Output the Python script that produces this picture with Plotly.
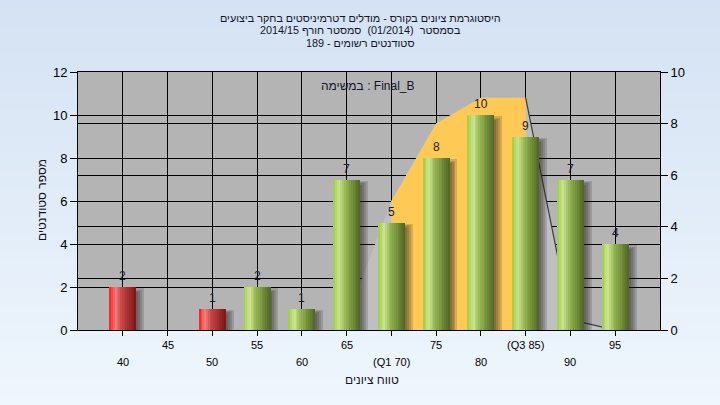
import plotly.graph_objects as go

# ---------------- data ----------------
categories = [40, 45, 50, 55, 60, 65, 70, 75, 80, 85, 90, 95]
counts = [2, 0, 1, 2, 1, 7, 5, 8, 10, 9, 7, 4]
pass_grade = 55

# distribution (right axis)
dist_x = [65, 70, 75, 80, 85, 90, 95]
dist_y = [0.4, 5, 8, 9, 9, 0.4, 0]
iqr_x = [70, 75, 80, 85]
iqr_y = [5, 8, 9, 9]
outline_x = [85, 90, 95]
outline_y = [9, 0.4, 0]

upper_ticks = [45, 55, 65, 75, 85, 95]
upper_labels = ["45", "55", "65", "75", "(Q3 85)", "95"]
lower_ticks = [40, 50, 60, 70, 80, 90]
lower_labels = ["40", "50", "60", "(Q1 70)", "80", "90"]

title_lines = [
    "היסטוגרמת ציונים בקורס - מודלים דטרמיניסטים בחקר ביצועים",
    "בסמסטר  (01/2014)  סמסטר חורף 2014/15",
    "סטודנטים רשומים - 189",
]
task_label = "במשימה : Final_B"
x_title = "טווח ציונים"
y_title = "מספר סטודנטים"

# ---------------- style ----------------
FONT = "Liberation Sans, Arial, sans-serif"
W, H = 720, 405
ML, MR, MT, MB = 78, 60, 72, 75
PW, PH = W - ML - MR, H - MT - MB


def px_to_paper_x(px):
    return (px - ML) / PW


def px_to_paper_y(py):
    return (H - MB - py) / PH


def lerp(c1, c2, t):
    return tuple(int(round(a + (b - a) * t)) for a, b in zip(c1, c2))


def grad(stops, t):
    for (t0, c0), (t1, c1) in zip(stops[:-1], stops[1:]):
        if t0 <= t <= t1:
            return lerp(c0, c1, (t - t0) / (t1 - t0))
    return stops[-1][1]


green_stops = [(0.0, (158, 206, 60)), (0.22, (205, 228, 150)), (0.45, (150, 182, 82)), (1.0, (78, 100, 38))]
red_stops = [(0.0, (255, 22, 22)), (0.22, (240, 128, 128)), (0.45, (200, 70, 70)), (1.0, (122, 22, 22))]

fig = go.Figure()

# distribution areas (main y axis -> right side)
fig.add_trace(go.Scatter(x=dist_x, y=dist_y, mode="lines", fill="tozeroy",
                         fillcolor="#bfbfbf", line=dict(width=0, color="rgba(0,0,0,0)"),
                         hoverinfo="skip", yaxis="y"))
fig.add_trace(go.Scatter(x=iqr_x, y=iqr_y, mode="lines", fill="tozeroy",
                         fillcolor="#ffc955", line=dict(width=0, color="rgba(0,0,0,0)"),
                         hoverinfo="skip", yaxis="y"))
fig.add_trace(go.Scatter(x=outline_x, y=outline_y, mode="lines",
                         line=dict(width=1.2, color="#3c3c3c"), hoverinfo="skip", yaxis="y"))

# shadows (bars axis y2)
BW = 3.0
for k in range(1, 5):
    sh_y = [max(v - 0.3 + 0.06 * k, 0) if v > 0 else 0 for v in counts]
    fig.add_trace(go.Bar(x=categories, y=sh_y, yaxis="y2",
                         offset=-BW / 2 + 0.5, width=BW - 0.5 + 0.22 * k,
                         marker=dict(color="rgba(30,30,30,0.17)", line=dict(width=0)),
                         hoverinfo="skip"))

# cylinder bars as gradient slices
N = 15
sw = BW / N
for i in range(N):
    t = (i + 0.5) / N
    cols = []
    for c in categories:
        stops = red_stops if c < pass_grade else green_stops
        cols.append("rgb(%d,%d,%d)" % grad(stops, t))
    w = sw + (0.06 if i < N - 1 else 0)
    fig.add_trace(go.Bar(x=categories, y=counts, yaxis="y2",
                         offset=-BW / 2 + i * sw, width=w,
                         marker=dict(color=cols, line=dict(width=0)),
                         hoverinfo="skip"))

annotations = []
# value labels
for c, v in zip(categories, counts):
    if v > 0:
        annotations.append(dict(x=c, y=v, xref="x", yref="y2", text=str(v), showarrow=False,
                                yanchor="bottom", yshift=2,
                                font=dict(family=FONT, size=12, color="#1a1a30")))
# x tick labels in two rows
for c, lab in zip(upper_ticks, upper_labels):
    annotations.append(dict(x=c, y=px_to_paper_y(345), xref="x", yref="paper", text=lab,
                            showarrow=False, yanchor="middle",
                            font=dict(family=FONT, size=11, color="#000000")))
for c, lab in zip(lower_ticks, lower_labels):
    annotations.append(dict(x=c, y=px_to_paper_y(362), xref="x", yref="paper", text=lab,
                            showarrow=False, yanchor="middle",
                            font=dict(family=FONT, size=11, color="#000000")))
# titles
for line, py in zip(title_lines, [18, 30.5, 43]):
    annotations.append(dict(x=px_to_paper_x(360), y=px_to_paper_y(py), xref="paper", yref="paper",
                            text=line, showarrow=False, yanchor="middle", xanchor="center",
                            font=dict(family=FONT, size=10.8, color="#141428")))
annotations.append(dict(x=px_to_paper_x(368), y=px_to_paper_y(86), xref="paper", yref="paper",
                        text=task_label, showarrow=False, yanchor="middle",
                        font=dict(family=FONT, size=12, color="#141428")))
annotations.append(dict(x=px_to_paper_x(372), y=px_to_paper_y(380), xref="paper", yref="paper",
                        text=x_title, showarrow=False, yanchor="middle",
                        font=dict(family=FONT, size=12, color="#141428")))
annotations.append(dict(x=px_to_paper_x(33), y=px_to_paper_y(200), xref="paper", yref="paper",
                        text=y_title, showarrow=False, textangle=-90,
                        font=dict(family=FONT, size=12, color="#141428")))

# background gradient + plot area
shapes = []
top_c, bot_c = (212, 226, 243), (239, 246, 253)
NS = 45
y_lo, y_hi = px_to_paper_y(H), px_to_paper_y(0)
for s in range(NS):
    a = y_hi - (y_hi - y_lo) * s / NS
    b = y_hi - (y_hi - y_lo) * (s + 1) / NS
    col = "rgb(%d,%d,%d)" % lerp(top_c, bot_c, (s + 0.5) / NS)
    shapes.append(dict(type="rect", xref="paper", yref="paper", x0=-0.2, x1=1.2,
                       y0=b - 0.003, y1=a, fillcolor=col, line=dict(width=0), layer="below"))
shapes.append(dict(type="rect", xref="x domain", yref="y domain", x0=0, x1=1, y0=0, y1=1,
                   fillcolor="#b4b4b4", line=dict(width=0), layer="below"))

fig.update_layout(
    width=W, height=H,
    margin=dict(l=ML, r=MR, t=MT, b=MB),
    paper_bgcolor="#e6eff9",
    plot_bgcolor="rgba(0,0,0,0)",
    barmode="overlay",
    bargap=0,
    showlegend=False,
    hovermode=False,
    font=dict(family=FONT, color="#000000"),
    xaxis=dict(range=[35, 100], tickvals=categories, showticklabels=False,
               ticks="outside", ticklen=5, tickcolor="#000000",
               showgrid=True, gridcolor="#000000", gridwidth=1,
               showline=True, linecolor="#000000", linewidth=1, mirror=True,
               zeroline=False, fixedrange=True),
    yaxis=dict(side="right", range=[0, 10], dtick=2, tick0=0,
               ticks="outside", ticklen=7, tickcolor="#000000",
               tickfont=dict(family=FONT, size=13, color="#000000"),
               showgrid=True, gridcolor="#000000", gridwidth=1,
               showline=True, linecolor="#000000", linewidth=1, zeroline=False),
    yaxis2=dict(overlaying="y", side="left", range=[0, 12], dtick=2, tick0=0,
                ticks="outside", ticklen=7, tickcolor="#000000",
                tickfont=dict(family=FONT, size=13, color="#000000"),
                showgrid=True, gridcolor="#000000", gridwidth=1,
                showline=True, linecolor="#000000", linewidth=1, zeroline=False),
    annotations=annotations,
    shapes=shapes,
)

fig.write_html("out.html", config={"displayModeBar": False, "staticPlot": True},
               post_script="document.body.style.margin='0';document.body.style.overflow='hidden';")
